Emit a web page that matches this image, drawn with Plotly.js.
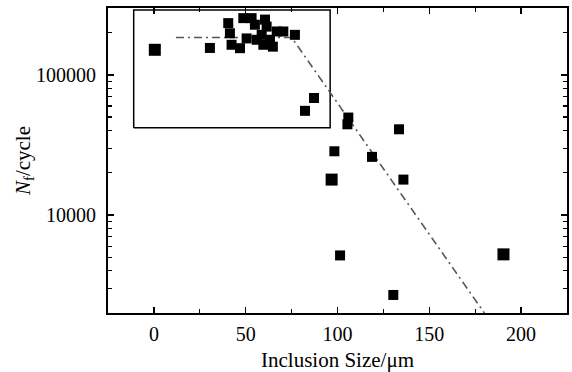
<!DOCTYPE html>
<html>
<head>
<meta charset="utf-8">
<script src="https://cdn.plot.ly/plotly-3.0.1.min.js"></script>
<style>html,body{margin:0;padding:0;background:#fff;}#chart{width:572px;height:372px;}</style>
</head>
<body>
<div id="chart"></div>
<script>
// Inclusion size (µm) and fatigue life N_f (cycles) — regular markers
var sizeSmall = [30.5, 40.5, 41.4, 42.3, 46.9, 48.7, 53.2, 55, 60.5, 61.4, 50.5, 56, 59.6, 63.2, 66.9, 70.5, 76.8, 58.7, 64.8,
                 87.2, 82.3, 105.9, 105.4, 133.5, 98.3, 118.8, 135.9, 101.4, 130.4];
var lifeSmall = [155600, 234000, 198000, 164000, 155000, 254000, 254000, 228000, 248000, 221000, 182000, 178000, 164000, 178000, 204000, 204000, 193000, 193000, 159000,
                 68400, 55400, 49600, 44400, 40900, 28500, 26000, 17900, 5150, 2690];
// larger markers
var sizeLarge = [0.5, 96.8, 190.4];
var lifeLarge = [151000, 17900, 5240];
// dash-dot trend line vertices
var trendX = [12, 75, 180];
var trendY = [185000, 185000, 2000];
// highlighted region box
var boxX = [-11, 96];
var boxY = [42000, 290000];
// axis ticks
var xTickVals = [0, 50, 100, 150, 200];
var yTickVals = [10000, 100000];
var yTickText = ['10000', '100000'];
var yMinorVals = [2000,3000,4000,5000,6000,7000,8000,9000,20000,30000,40000,50000,60000,70000,80000,90000,200000,300000];

var fontFam = 'Liberation Serif';

var traces = [
  {
    x: [boxX[0], boxX[1], boxX[1], boxX[0], boxX[0]],
    y: [boxY[0], boxY[0], boxY[1], boxY[1], boxY[0]],
    mode: 'lines', line: {color: '#000', width: 1.5}, hoverinfo: 'skip', showlegend: false
  },
  {
    x: trendX, y: trendY, mode: 'lines',
    line: {color: '#555', width: 1.6, dash: '8px,4px,2px,4px'}, showlegend: false
  },
  {
    x: sizeSmall, y: lifeSmall, mode: 'markers',
    marker: {symbol: 'square', size: 10, color: '#000'}, showlegend: false
  },
  {
    x: sizeLarge, y: lifeLarge, mode: 'markers',
    marker: {symbol: 'square', size: 12, color: '#000'}, showlegend: false
  }
];

var layout = {
  width: 572, height: 372,
  margin: {l: 108, r: 5, t: 8, b: 59},
  paper_bgcolor: '#fff', plot_bgcolor: '#fff',
  font: {family: fontFam, color: '#000', size: 20},
  xaxis: {
    range: [-25, 225],
    tickmode: 'array', tickvals: xTickVals,
    ticks: 'inside', ticklen: 6, tickwidth: 1.5, tickcolor: '#000',
    minor: {dtick: 25, tick0: 0, ticks: 'inside', ticklen: 4, tickwidth: 1.2, tickcolor: '#000'},
    showline: true, linewidth: 2, linecolor: '#000', mirror: 'ticks',
    showgrid: false, zeroline: false,
    tickfont: {family: fontFam, size: 20},
    ticklabelstandoff: 2,
    title: {text: 'Inclusion Size/μm', font: {family: fontFam, size: 21}, standoff: 13}
  },
  yaxis: {
    type: 'log',
    range: [Math.log10(2000), Math.log10(300000)],
    tickmode: 'array', tickvals: yTickVals, ticktext: yTickText,
    ticks: 'inside', ticklen: 6, tickwidth: 1.5, tickcolor: '#000',
    minor: {tickmode: 'array', tickvals: yMinorVals, ticks: 'inside', ticklen: 4, tickwidth: 1.2, tickcolor: '#000'},
    showline: true, linewidth: 2, linecolor: '#000', mirror: 'ticks',
    showgrid: false, zeroline: false,
    tickfont: {family: fontFam, size: 20},
    ticklabelstandoff: 6,
    title: {text: '<i>N</i><sub>f</sub>/cycle', font: {family: fontFam, size: 21}, standoff: 0}
  }
};

Plotly.newPlot('chart', traces, layout, {staticPlot: true, displayModeBar: false});
</script>
</body>
</html>
